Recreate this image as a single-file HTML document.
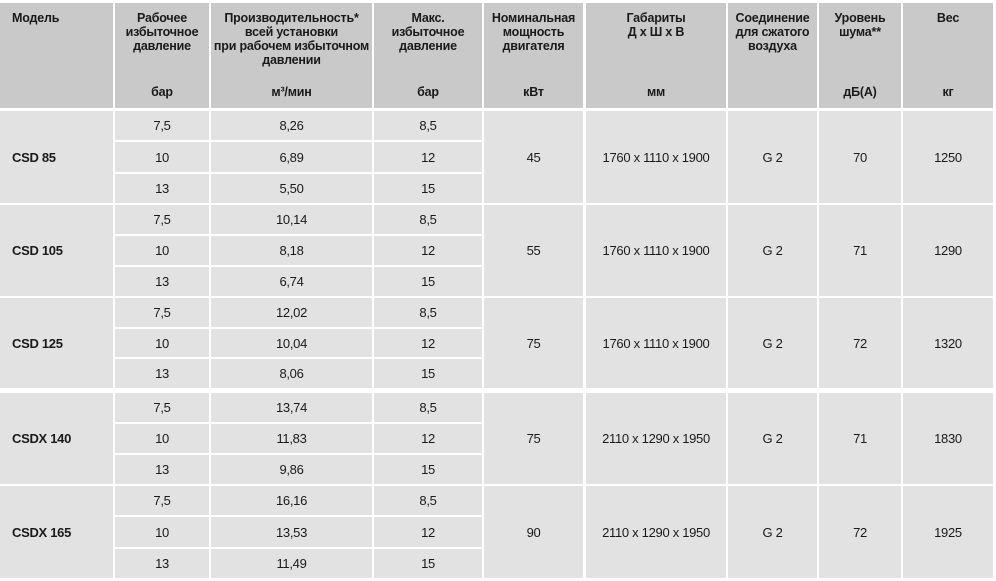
<!DOCTYPE html>
<html><head><meta charset="utf-8">
<style>
html,body{margin:0;padding:0;background:#fff;}
body{width:996px;height:581px;position:relative;overflow:hidden;font-family:"Liberation Sans",Arial,sans-serif;color:#1a1a1a;}
.c{position:absolute;box-sizing:border-box;background:#e2e2e2;display:flex;align-items:center;justify-content:center;text-align:center;font-size:13px;letter-spacing:-0.3px;}
.h{background:#c9c9c9;font-weight:bold;font-size:12.5px;line-height:14px;align-items:flex-start;padding-top:8px;letter-spacing:-0.2px;}
.u{position:absolute;left:0;right:0;top:82px;text-align:center;}
.m{justify-content:flex-start;padding-left:12px;font-weight:bold;}
</style></head><body>
<script>
const L=[0,115,211,374,484,586,728,819,903];
const R=[113,209,372,482,583,726,817,901,993];
const heads=[["Модель",""],["Рабочее<br>избыточное<br>давление","бар"],["Производительность*<br>всей установки<br>при рабочем избыточном<br>давлении","м³/мин"],["Макс.<br>избыточное<br>давление","бар"],["Номинальная<br>мощность<br>двигателя","кВт"],["Габариты<br>Д x Ш x В","мм"],["Соединение<br>для сжатого<br>воздуха",""],["Уровень<br>шума**","дБ(А)"],["Вес","кг"]];
const groups=[[111,203],[205,296],[298,388],[393,484],[486,578]];
const models=["CSD 85","CSD 105","CSD 125","CSDX 140","CSDX 165"];
const press=["7,5","10","13"];
const flow=[["8,26","6,89","5,50"],["10,14","8,18","6,74"],["12,02","10,04","8,06"],["13,74","11,83","9,86"],["16,16","13,53","11,49"]];
const maxp=["8,5","12","15"];
const power=["45","55","75","75","90"];
const dims=["1760 x 1110 x 1900","1760 x 1110 x 1900","1760 x 1110 x 1900","2110 x 1290 x 1950","2110 x 1290 x 1950"];
const conn=["G 2","G 2","G 2","G 2","G 2"];
const noise=["70","71","72","71","72"];
const weight=["1250","1290","1320","1830","1925"];
function cell(col,top,bot,html,cls){
  const d=document.createElement('div');
  d.className='c '+(cls||'');
  d.style.left=L[col]+'px';d.style.width=(R[col]-L[col])+'px';
  d.style.top=top+'px';d.style.height=(bot-top)+'px';
  d.innerHTML=html;
  document.body.appendChild(d);
  return d;
}
heads.forEach((h,i)=>{
  const d=cell(i,3,108,h[0]+'<div class="u">'+h[1]+'</div>','h'+(i===0?' m':''));
  if(i===0){d.style.justifyContent='flex-start';}
  
  
});
groups.forEach((g,gi)=>{
  const [t,b]=g;
  const m=cell(0,t,b,models[gi],'m');
  
  
  const sh=(b-t-4)/3;
  for(let s=0;s<3;s++){
    const st=Math.round(t+s*(sh+2)), sb=Math.round(t+s*(sh+2)+sh);
    const a=cell(1,st,sb,press[s]);
    
    
    const f=cell(2,st,sb,flow[gi][s]);
    
    
    const x=cell(3,st,sb,maxp[s]);
    
    
  }
  const vals=[power,dims,conn,noise,weight];
  const nm=['power-cell','dimensions-cell','connection-cell','noise-cell','weight-cell'];
  vals.forEach((v,k)=>{
    const d=cell(4+k,t,b,v[gi]);
    
    
  });
});
</script>
</body></html>
